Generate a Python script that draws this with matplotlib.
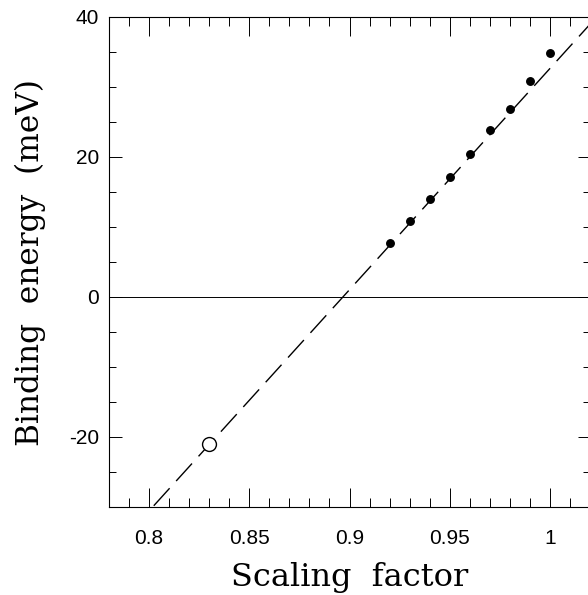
import numpy as np
import matplotlib
matplotlib.use('Agg')
import matplotlib.pyplot as plt
from matplotlib.ticker import MultipleLocator

plt.rcParams['axes.unicode_minus'] = False

# Dados
scaling = [0.92, 0.93, 0.94, 0.95, 0.96, 0.97, 0.98, 0.99, 1.00]
binding = [7.7, 10.9, 14.0, 17.2, 20.5, 23.9, 26.9, 30.9, 34.8]
extrap_x = [0.83]
extrap_y = [-21.0]

# reta de ajuste: E = slope * (s - s0)
fit_slope = 316.0
fit_s0 = 0.8967

xticks = [0.8, 0.85, 0.9, 0.95, 1.0]
xticklabels = ['0.8', '0.85', '0.9', '0.95', '1']
yticks = [-20, 0, 20, 40]

fig = plt.figure(figsize=(5.88, 5.95), dpi=100)
ax = fig.add_axes([109 / 588, 1 - 507 / 595, 481 / 588, 490 / 595])

ax.set_xlim(0.78, 1.02)
ax.set_ylim(-30, 40)

# reta tracejada
xs = np.array([0.78, 1.02])
ax.plot(xs, fit_slope * (xs - fit_s0), color='black', lw=1.0,
        dashes=(17, 7), zorder=2)

# linha horizontal em zero
ax.axhline(0, color='black', lw=0.7, zorder=1)

# pontos calculados
ax.plot(scaling, binding, 'o', color='black', ms=5.4, zorder=3)
ax.plot(extrap_x, extrap_y, 'o', mfc='white', mec='black', mew=1.0,
        ms=10, zorder=3)

for s in ax.spines.values():
    s.set_linewidth(0.8)

ax.set_xticks(xticks)
ax.set_xticklabels(xticklabels)
ax.set_yticks(yticks)
ax.xaxis.set_minor_locator(MultipleLocator(0.01))
ax.yaxis.set_minor_locator(MultipleLocator(5))

ax.tick_params(axis='x', which='major', direction='in', length=13.5, width=0.7,
               top=True, bottom=True, labelsize=15, pad=16)
ax.tick_params(axis='x', which='minor', direction='in', length=6.5, width=0.7,
               top=True, bottom=True)
ax.tick_params(axis='y', which='major', direction='in', length=9, width=0.7,
               left=True, right=True, labelsize=15, pad=7)
ax.tick_params(axis='y', which='minor', direction='in', length=5, width=0.7,
               left=True, right=True)
for lab in ax.get_xticklabels() + ax.get_yticklabels():
    lab.set_family('Liberation Sans')

ax.set_xlabel('Scaling  factor', fontsize=23, family='DejaVu Serif', labelpad=10)
ax.set_ylabel('Binding  energy  (meV)', fontsize=22.5, family='DejaVu Serif')
ax.yaxis.set_label_coords((46 - 109) / 481, 0.5)

fig.savefig('out.png', dpi=100)
